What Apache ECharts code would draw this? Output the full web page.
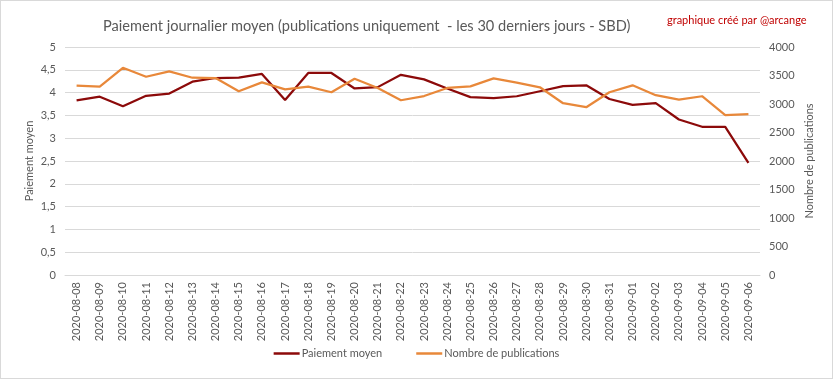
<!DOCTYPE html>
<html>
<head>
<meta charset="utf-8">
<script src="https://cdn.jsdelivr.net/npm/echarts@6/dist/echarts.min.js"></script>
<style>
html,body{margin:0;padding:0;background:#fff;}
#c{width:833px;height:379px;box-sizing:border-box;border:1px solid #d9d9d9;}
</style>
</head>
<body>
<div id="c"></div>
<script>
const dates = ["2020-08-08","2020-08-09","2020-08-10","2020-08-11","2020-08-12","2020-08-13","2020-08-14","2020-08-15","2020-08-16","2020-08-17","2020-08-18","2020-08-19","2020-08-20","2020-08-21","2020-08-22","2020-08-23","2020-08-24","2020-08-25","2020-08-26","2020-08-27","2020-08-28","2020-08-29","2020-08-30","2020-08-31","2020-09-01","2020-09-02","2020-09-03","2020-09-04","2020-09-05","2020-09-06"];
const paiementMoyen = [3.83,3.91,3.70,3.93,3.98,4.24,4.32,4.33,4.41,3.84,4.43,4.43,4.09,4.12,4.39,4.29,4.09,3.90,3.88,3.92,4.03,4.14,4.16,3.86,3.73,3.77,3.41,3.25,3.25,2.46];
const nombrePublications = [3322,3304,3635,3478,3571,3461,3455,3223,3379,3257,3304,3206,3443,3281,3066,3140,3281,3310,3449,3374,3293,3014,2944,3206,3328,3154,3078,3136,2806,2823];
const seriesNames = ["Paiement moyen","Nombre de publications"];

const FONT = 'Lato, "Open Sans", sans-serif';
const TXT = '#595959';
const chart = echarts.init(document.getElementById('c'), null, {renderer:'canvas'});
chart.setOption({
  animation:false,
  textStyle:{fontFamily:FONT},
  title:[
    {text:'Paiement journalier moyen (publications uniquement  - les 30 derniers jours - SBD)', left:97, top:13,
     textStyle:{fontFamily:FONT, fontSize:14.6, fontWeight:'normal', color:TXT}},
    {text:'graphique créé par @arcange', left:661, top:9,
     textStyle:{fontFamily:FONT, fontSize:11, fontWeight:'normal', color:'#c00000'}}
  ],
  legend:{
    data:seriesNames, bottom:14, left:'center', icon:'rect', itemWidth:26, itemHeight:2.5, itemGap:34,
    textStyle:{fontFamily:FONT, fontSize:11, color:TXT, padding:[0,0,0,-3]}
  },
  grid:{left:64, right:72, top:46, bottom:103},
  xAxis:{
    type:'category', data:dates, boundaryGap:true,
    axisLine:{lineStyle:{color:'#d9d9d9'}}, axisTick:{show:false},
    axisLabel:{rotate:90, interval:0, fontSize:11, color:TXT, margin:7, fontFamily:FONT}
  },
  yAxis:[
    {type:'value', min:0, max:5, interval:0.5, name:'Paiement moyen', nameLocation:'middle', nameGap:30, nameRotate:90, nameMoveOverlap:false,
     nameTextStyle:{fontSize:11, color:TXT, fontFamily:FONT},
     axisLabel:{fontSize:11, color:TXT, margin:9, fontFamily:FONT, formatter:v=>String(v).replace('.',',')},
     splitLine:{lineStyle:{color:'#d9d9d9'}}, axisLine:{show:false}, axisTick:{show:false}},
    {type:'value', min:0, max:4000, interval:500, position:'right', name:'Nombre de publications', nameLocation:'middle', nameGap:44, nameRotate:90, nameMoveOverlap:false,
     nameTextStyle:{fontSize:11, color:TXT, fontFamily:FONT},
     axisLabel:{fontSize:11, color:TXT, margin:9, fontFamily:FONT, formatter:v=>String(v)},
     splitLine:{show:false}, axisLine:{show:false}, axisTick:{show:false}}
  ],
  series:[
    {name:seriesNames[0], type:'line', yAxisIndex:0, data:paiementMoyen, showSymbol:false, symbol:'none',
     lineStyle:{color:'#8c0a0a', width:2.25}, itemStyle:{color:'#8c0a0a'}},
    {name:seriesNames[1], type:'line', yAxisIndex:1, data:nombrePublications, showSymbol:false, symbol:'none',
     lineStyle:{color:'#e8883a', width:2.25}, itemStyle:{color:'#e8883a'}}
  ]
});
</script>
</body>
</html>
